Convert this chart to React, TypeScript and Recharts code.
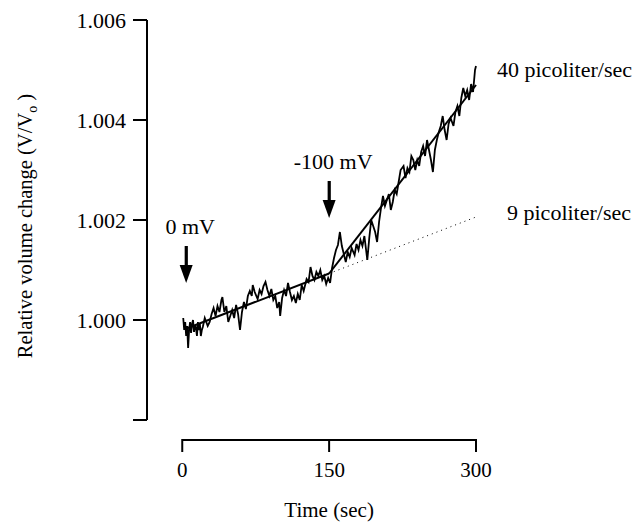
import { ComposedChart, Line, Scatter, XAxis, YAxis, ReferenceLine, Label } from 'recharts'

// noisy volume trace
const timeSec = [
  1, 2, 3, 4, 5, 6, 7, 8, 9, 10, 11, 12, 13, 14, 15, 16, 17, 18, 19, 20,
  21, 23, 26, 28, 30, 32, 34, 36, 38, 40, 41, 43, 45, 47, 49, 51, 53, 55, 57, 59,
  61, 63, 65, 67, 69, 71, 72, 74, 77, 79, 81, 83, 85, 87, 89, 91, 93, 95, 97, 99,
  100, 102, 104, 106, 108, 110, 112, 114, 116, 118, 120, 122, 124, 127, 129, 131, 133, 135, 137, 139,
  141, 143, 145, 147, 149, 151, 153, 155, 157, 159, 161, 163, 165, 167, 169, 171, 173, 176, 178, 180,
  182, 184, 186, 188, 189, 191, 193, 195, 197, 199, 201, 203, 205, 207, 209, 211, 213, 215, 217, 219,
  221, 223, 226, 228, 230, 232, 234, 236, 238, 240, 242, 244, 246, 248, 250, 252, 254, 256, 258, 260,
  262, 264, 266, 268, 270, 272, 274, 277, 279, 281, 283, 285, 287, 289, 291, 293, 295, 297, 299, 300,
]
const volume = [
  1.00004, 0.9998, 0.99996, 0.99968, 0.99988, 0.99944, 0.9998, 0.99996, 0.99974, 0.99992,
  1.0, 0.99976, 0.9999, 0.99984, 0.99968, 0.99996, 0.9998, 0.99992, 0.99968, 0.9998,
  0.99986, 1.00004, 0.99988, 0.99996, 1.00012, 1.00024, 1.00008, 1.00028, 1.00016, 1.0004,
  1.00046, 1.00016, 1.00028, 0.99996, 1.00008, 1.0002, 1.00004, 1.0003, 1.00012, 0.9998,
  1.00016, 1.00036, 1.00022, 1.00048, 1.00058, 1.00048, 1.0007, 1.00056, 1.00042, 1.0006,
  1.00052, 1.00068, 1.00076, 1.0006, 1.00048, 1.00062, 1.0004, 1.00048, 1.00024, 1.00036,
  1.00008, 1.00044, 1.0006, 1.00048, 1.00074, 1.00056, 1.0004, 1.00048, 1.00034, 1.00052,
  1.0004, 1.0007, 1.00058, 1.00082, 1.00076, 1.00106, 1.00088, 1.0008, 1.00096, 1.00088,
  1.001, 1.0008, 1.00088, 1.00072, 1.00084, 1.00074, 1.00104, 1.00124, 1.0014, 1.0015,
  1.00176, 1.00148, 1.00132, 1.00116, 1.00136, 1.00126, 1.00144, 1.0013, 1.00152, 1.0014,
  1.0016, 1.00148, 1.00168, 1.00136, 1.0012, 1.00164, 1.002, 1.00188, 1.00176, 1.00156,
  1.00196, 1.00224, 1.00248, 1.00228, 1.0024, 1.00252, 1.0022, 1.00236, 1.0026, 1.00252,
  1.00276, 1.003, 1.00308, 1.00284, 1.00304, 1.00296, 1.00328, 1.0032, 1.003, 1.0032,
  1.00308, 1.00336, 1.00348, 1.00328, 1.0036, 1.0034, 1.0032, 1.00296, 1.0034, 1.0036,
  1.00376, 1.00388, 1.00408, 1.0038, 1.0036, 1.00392, 1.00404, 1.00388, 1.00416, 1.00428,
  1.00408, 1.00444, 1.00464, 1.00448, 1.0046, 1.0044, 1.00472, 1.00456, 1.005, 1.00508,
]

// fitted lines
const fitEarlyT = [3, 150]
const fitEarlyV = [0.99982, 1.00093]
const fitLateT = [150, 300]
const fitLateV = [1.00093, 1.0047]
const projT = [150, 300]
const projV = [1.00093, 1.00206]

// voltage step arrows (tip position)
const arrowT = [4, 150]
const arrowV = [1.00074, 1.00204]
const arrowText = ['0 mV', '-100 mV']

const rateText = ['40 picoliter/sec', '9 picoliter/sec']

const xTicks = [0, 150, 300]
const yTicks = [0.998, 1.0, 1.002, 1.004, 1.006]
const xAxisLevel = 0.9976

const FONT = '"Liberation Serif", "Times New Roman", serif'

const trace = timeSec.map((t, i) => ({ t, v: volume[i] }))
const fitEarly = fitEarlyT.map((t, i) => ({ t, v: fitEarlyV[i] }))
const fitLate = fitLateT.map((t, i) => ({ t, v: fitLateV[i] }))
const proj = projT.map((t, i) => ({ t, v: projV[i] }))
const arrows = arrowT.map((t, i) => ({ t, v: arrowV[i], text: arrowText[i] }))

function TimeTick({ x, y, payload }: any) {
  return (
    <g>
      <line x1={x} y1={y + 19} x2={x} y2={y + 32} stroke="#000" strokeWidth={2} />
      <text x={x} y={y + 57} textAnchor="middle" fontSize={21} fill="#000" fontFamily={FONT}>
        {payload.value}
      </text>
      {payload.value === 150 && (
        <text x={x} y={y + 97} textAnchor="middle" fontSize={21} fill="#000" fontFamily={FONT}>
          Time (sec)
        </text>
      )}
    </g>
  )
}

function StepArrow({ cx, cy, payload }: any) {
  return (
    <g>
      <rect x={cx - 1.5} y={cy - 37} width={3.2} height={21} fill="#000" />
      <polygon points={`${cx - 6.5},${cy - 18} ${cx + 6.5},${cy - 18} ${cx},${cy}`} fill="#000" />
      <text x={cx + 4} y={cy - 49} textAnchor="middle" fontSize={22} fill="#000" fontFamily={FONT}>
        {payload.text}
      </text>
    </g>
  )
}

function YTitle({ viewBox }: any) {
  const cx = viewBox.x + 32
  const cy = viewBox.y + viewBox.height / 2 + 6
  return (
    <text transform={`translate(${cx},${cy}) rotate(-90)`} textAnchor="middle" fontSize={20.5} fill="#000" fontFamily={FONT}>
      <tspan>Relative volume change (V/V</tspan>
      <tspan fontSize={14} dy={5}>o</tspan>
      <tspan dy={-5}> )</tspan>
    </text>
  )
}

export default function App() {
  return (
    <div style={{ position: 'absolute', left: 0, top: 0, background: '#fff' }}>
      <ComposedChart
        width={641}
        height={525}
        margin={{ top: 20, right: 165, bottom: 0, left: 0 }}
        style={{ fontFamily: FONT }}
      >
        <XAxis
          dataKey="t"
          type="number"
          domain={[-36, 300]}
          ticks={xTicks}
          axisLine={false}
          tickLine={false}
          tickSize={0}
          tickMargin={0}
          height={105}
          tick={<TimeTick />}
        />
        <YAxis
          dataKey="v"
          type="number"
          domain={[0.998, 1.006]}
          ticks={yTicks}
          width={147}
          tickSize={14}
          tickMargin={7}
          axisLine={{ stroke: '#000', strokeWidth: 2 }}
          tickLine={{ stroke: '#000', strokeWidth: 2 }}
          tick={{ fill: '#000', fontSize: 22, fontFamily: FONT }}
          tickFormatter={(v: number) => (v < 0.999 ? '' : v.toFixed(3))}
        >
          <Label content={<YTitle />} />
        </YAxis>
        <ReferenceLine
          segment={[{ x: 0, y: xAxisLevel }, { x: 300, y: xAxisLevel }]}
          ifOverflow="visible"
          stroke="#000"
          strokeWidth={2}
        />
        <Line data={proj} dataKey="v" stroke="#000" strokeWidth={1} strokeDasharray="1 4" dot={false} isAnimationActive={false}
          label={(p: any) => p.index === 1
            ? <text key="pl" x={p.x + 31} y={p.y + 3} fontSize={22} fill="#000" fontFamily={FONT}>{rateText[1]}</text>
            : <g key={`pe${p.index}`} />}
        />
        <Line data={trace} dataKey="v" stroke="#000" strokeWidth={1.8} dot={false} isAnimationActive={false} />
        <Line data={fitEarly} dataKey="v" stroke="#000" strokeWidth={2} dot={false} isAnimationActive={false} />
        <Line data={fitLate} dataKey="v" stroke="#000" strokeWidth={2} dot={false} isAnimationActive={false}
          label={(p: any) => p.index === 1
            ? <text key="fl" x={p.x + 21} y={p.y - 8} fontSize={22} fill="#000" fontFamily={FONT}>{rateText[0]}</text>
            : <g key={`fe${p.index}`} />}
        />
        <Scatter data={arrows} dataKey="v" shape={<StepArrow />} isAnimationActive={false} />
      </ComposedChart>
    </div>
  )
}
